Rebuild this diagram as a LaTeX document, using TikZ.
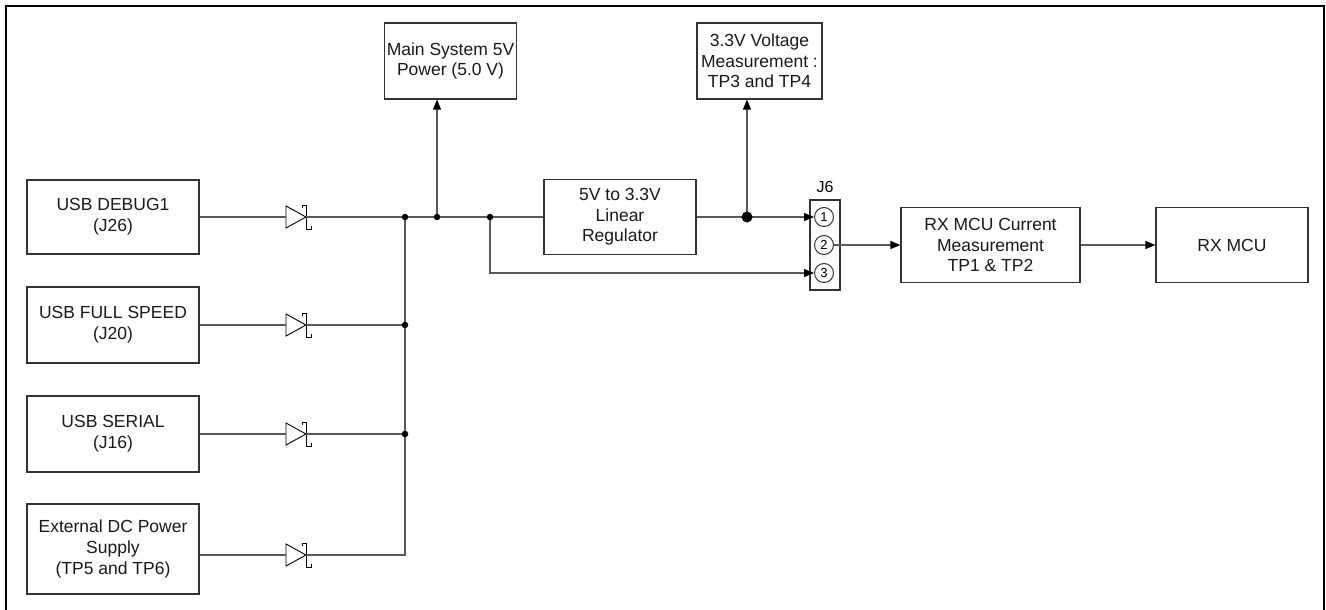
\documentclass[tikz,border=0pt]{standalone}
\usepackage{fontspec}
\setmainfont{Liberation Sans}
\usetikzlibrary{arrows.meta}

\definecolor{boxgray}{HTML}{333333}
\definecolor{wiregray}{HTML}{5A5A5A}

\tikzset{
  blockbox/.style={draw=boxgray, line width=1.1pt, align=center, inner sep=2pt,
    text=black!90, font=\fontsize{17.5}{20.5}\selectfont},
  srcbox/.style={blockbox, minimum width=172pt, font=\fontsize{17.5}{21}\selectfont},
  wire/.style={draw=wiregray, line width=1.2pt},
  feed/.style={wire, -{Triangle[length=10pt, width=8pt, color=black]}},
  dot/.style={circle, fill=black, inner sep=0pt, minimum size=6.5pt},
  bigdot/.style={dot, minimum size=11pt},
  pin/.style={circle, draw=boxgray, line width=1pt, inner sep=0pt, minimum size=19pt,
    font=\fontsize{13}{13}\selectfont},
  diode/.pic={
    \draw[line width=0.9pt] (0,-11) -- (20,0) -- (0,11) -- cycle;
    \draw[line width=0.9pt] (16,-9) -- (16,-12) -- (20,-12) -- (20,12) -- (25,12) -- (25,9);
    \coordinate (-in) at (0,0);
    \coordinate (-out) at (20,0);
  }
}

\begin{document}
\begin{tikzpicture}[x=1pt, y=-1pt]
  \useasboundingbox (0,0) rectangle (1326,610);
  \draw[line width=2.2pt] (6,6) rectangle (1324,640);

  % power sources
  \node[srcbox, minimum height=74pt] (debug) at (113,217) {USB DEBUG1\\(J26)};
  \node[srcbox, minimum height=76pt] (fullspeed) at (113,325) {USB FULL SPEED\\(J20)};
  \node[srcbox, minimum height=76pt] (serial) at (113,434) {USB SERIAL\\(J16)};
  \node[srcbox, minimum height=90pt] (extdc) at (113,549) {External DC Power\\Supply\\(TP5 and TP6)};

  \pic (dA) at (286,217) {diode};
  \pic (dB) at (286,325) {diode};
  \pic (dC) at (286,434) {diode};
  \pic (dD) at (286,555) {diode};

  % upper row
  \node[blockbox, minimum width=125pt, minimum height=76pt] (main5v) at (450.5,61) {Main System 5V\\Power (5.0 V)};
  \node[blockbox, minimum width=125pt, minimum height=76pt] (volt) at (759.5,61) {3.3V Voltage\\Measurement :\\TP3 and TP4};
  \node[blockbox, minimum width=152pt, minimum height=75pt] (reg) at (620,217) {5V to 3.3V\\Linear\\Regulator};

  % jumper J6
  \node[draw=boxgray, line width=1.1pt, minimum width=30pt, minimum height=90pt] (j6) at (825,245) {};
  \node[font=\fontsize{16}{16}\selectfont] (j6lbl) at (825,187) {J6};
  \node[pin] (p1) at (824,217) {1};
  \node[pin] (p2) at (824,245) {2};
  \node[pin] (p3) at (824,273) {3};

  \node[blockbox, minimum width=179pt, minimum height=75pt] (current) at (990.5,245) {RX MCU Current\\Measurement\\TP1 \& TP2};
  \node[blockbox, minimum width=152pt, minimum height=75pt] (rxmcu) at (1232,245) {RX MCU};

  % junctions
  \coordinate (jA) at (405,217);
  \coordinate (jB) at (405,325);
  \coordinate (jC) at (405,434);
  \coordinate (jD) at (437,217);
  \coordinate (jE) at (490,217);
  \coordinate (jF) at (747,217);

  \draw[wire] (debug.east) -- (dA-in);
  \draw[wire] (fullspeed.east |- dB-in) -- (dB-in);
  \draw[wire] (serial.east |- dC-in) -- (dC-in);
  \draw[wire] (extdc.east |- dD-in) -- (dD-in);
  \draw[wire] (dB-out) -- (jB);
  \draw[wire] (dC-out) -- (jC);
  \draw[wire] (dD-out) -| (jA);
  \draw[wire] (dA-out) -- (jA) -- (jD) -- (jE) -- (reg.west |- jE);
  \draw[feed] (jD) -- (jD |- main5v.south);
  \draw[wire] (reg.east |- jF) -- (jF);
  \draw[feed] (jF) -- (p1.west);
  \draw[feed] (jF) -- (jF |- volt.south);
  \draw[feed] (jE) |- (p3.west);
  \draw[feed] (p2.east) -- (current.west);
  \draw[feed] (current.east) -- (rxmcu.west);

  \node[dot] (dotA) at (jA) {};
  \node[dot] (dotB) at (jB) {};
  \node[dot] (dotC) at (jC) {};
  \node[dot] (dotD) at (jD) {};
  \node[dot] (dotE) at (jE) {};
  \node[bigdot] (dotF) at (jF) {};
\end{tikzpicture}
\end{document}
